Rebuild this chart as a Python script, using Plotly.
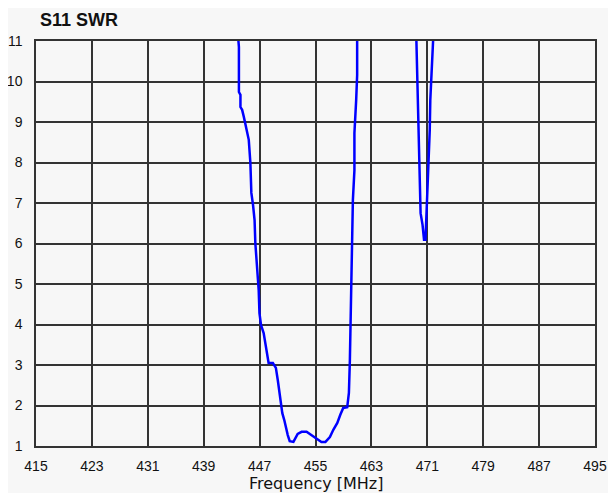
import plotly.graph_objects as go

freq = [443.5, 443.89, 444.04, 444.04, 444.26, 444.26, 444.5, 444.75, 445.07, 445.45, 445.68,
        445.82, 446.06, 446.28, 446.39, 446.63, 446.87, 446.98, 447.2, 447.58, 447.91,
        448.29, 448.9, 449.33, 449.6, 449.82, 450.1, 450.25, 450.53, 450.74, 451.03, 451.31,
        451.84, 452.45, 453.01, 453.72, 454.43, 455.0, 455.85, 456.42, 457.06, 457.55,
        458.12, 458.55, 458.97, 459.54, 459.78, 459.92, 460.1, 460.25, 460.35, 460.57,
        460.57, 460.82, 460.96, 460.96, 461.1,
        469.3, 469.43, 469.57, 469.71, 469.89, 470.04, 470.32, 470.53, 470.74, 470.89,
        471.1, 471.21, 471.35, 471.43, 471.7, 471.92, 472.1]
swr = [12.0, 11.0, 10.85, 9.74, 9.67, 9.37, 9.3, 9.12, 8.88, 8.56, 7.99,
       7.25, 6.95, 6.58, 6.01, 5.42, 4.85, 4.28, 3.99, 3.79, 3.44,
       3.05, 3.05, 2.93, 2.63, 2.31, 2.01, 1.81, 1.64, 1.47, 1.27, 1.12,
       1.10, 1.30, 1.35, 1.35, 1.27, 1.20, 1.10, 1.10, 1.22, 1.40,
       1.57, 1.77, 1.94, 1.96, 2.31, 3.12, 4.85, 6.58, 7.07, 7.81,
       8.73, 9.54, 10.16, 11.0, 12.0,
       12.0, 11.0, 10.48, 9.47, 7.40, 6.75, 6.46, 6.09, 6.09, 6.75,
       7.32, 7.94, 8.80, 9.54, 10.53, 11.0, 12.0]

x_ticks = [415, 423, 431, 439, 447, 455, 463, 471, 479, 487, 495]
y_ticks = [1, 2, 3, 4, 5, 6, 7, 8, 9, 10, 11]

fig = go.Figure()
fig.add_trace(go.Scatter(x=freq, y=swr, mode="lines",
                         line=dict(color="#0000ff", width=2.5), showlegend=False))

grid = "#333333"
fig.update_layout(
    width=600, height=485,
    margin=dict(l=28, r=13, t=33, b=47),
    paper_bgcolor="#f7f7f7", plot_bgcolor="#f7f7f7",
    font=dict(family="Arial, Liberation Sans", size=14, color="#111111"),
    xaxis=dict(range=[415, 495], tickvals=x_ticks, ticktext=[str(v) for v in x_ticks],
               showgrid=True, gridcolor=grid, gridwidth=1.5, zeroline=False,
               showline=True, linecolor=grid, linewidth=1.5, mirror=True,
               ticks="", ticklabelstandoff=6, automargin=False,
               ticklabeloverflow="allow"),
    yaxis=dict(range=[1, 11], tickvals=y_ticks, ticktext=[str(v) for v in y_ticks],
               showgrid=True, gridcolor=grid, gridwidth=1.5, zeroline=False,
               showline=True, linecolor=grid, linewidth=1.5, mirror=True,
               ticks="", ticklabelstandoff=9, automargin=False),
    annotations=[
        dict(text="<b>S11 SWR</b>", xref="paper", yref="paper", x=0, y=1,
             xanchor="left", yanchor="middle", yshift=21, xshift=2, showarrow=False,
             font=dict(family="Arial, Liberation Sans", size=18, color="#111111")),
        dict(text="Frequency [MHz]", xref="paper", yref="paper", x=0.5, y=0,
             xanchor="center", yanchor="middle", yshift=-37, xshift=0, showarrow=False,
             font=dict(family="DejaVu Sans", size=16, color="#111111")),
    ],
)

fig.write_html("out.html")
